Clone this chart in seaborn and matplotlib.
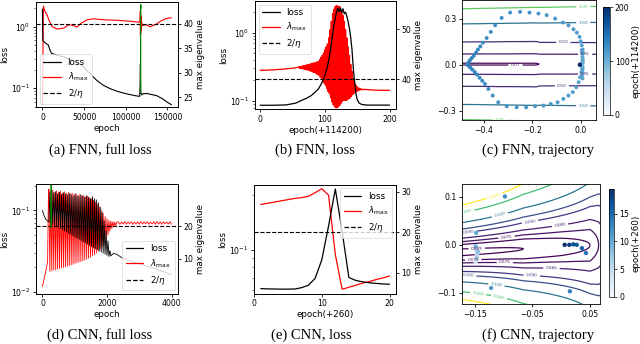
import numpy as np
import matplotlib
matplotlib.use("Agg")
import matplotlib.pyplot as plt
from matplotlib.lines import Line2D
from matplotlib.colors import Normalize
from matplotlib.cm import ScalarMappable
from matplotlib.ticker import NullFormatter
import seaborn as sns

# ---------------------------------------------------------------- data
fnn_two_over_eta = 40
cnn_two_over_eta = 20

# (a) FNN, full loss
a_loss_epoch = [0, 400, 3000, 7000, 9000, 11000, 17000, 25000, 33000, 41000,
                49000, 57000, 65000, 73000, 81000, 89000, 97000, 105000, 113000, 116800,
                117300, 117600, 117900, 118400, 119500, 121000, 126000, 131000, 137000, 142000,
                146000, 150000, 155000]
a_loss = [1.95, 0.60, 0.553, 0.507, 0.42, 0.37, 0.348, 0.326, 0.295, 0.27,
          0.224, 0.174, 0.135, 0.112, 0.099, 0.090, 0.0837, 0.079, 0.075, 0.074,
          0.12, 0.25, 0.09, 0.082, 0.078, 0.082, 0.082, 0.079, 0.076, 0.070,
          0.065, 0.059, 0.054]
a_red_epoch = [0, 1200, 2400, 4000, 5600, 7600, 11600, 17600, 25600, 31600,
               37600, 41600, 45600, 53600, 61600, 73600, 89600, 105600, 115600, 117300,
               117500, 117650, 117800, 117950, 118100, 118300, 118600, 120000, 123600, 129600,
               135600, 141600, 147600, 153600, 155000]
a_red = [23.5, 43.6, 42.8, 42.2, 41.8, 40.8, 39.4, 38.9, 39.1, 39.8,
         39.6, 39.3, 40.0, 40.8, 41.0, 40.8, 40.7, 40.5, 40.3, 40.6,
         42.6, 37.6, 42.2, 38.0, 41.6, 38.6, 40.8, 39.6, 39.8, 39.4,
         39.8, 40.5, 41.0, 41.2, 41.2]
a_zoom_start = 117700

# (b) FNN, loss (epoch offset 114200)
b_loss_epoch = [0, 20, 40, 55, 64, 72, 79, 85, 90, 94, 97, 101, 105, 108, 110, 112, 114, 116, 118, 120,
                122, 124, 126, 128, 130, 132, 134, 136, 138, 140, 142, 144, 146, 148, 150, 153, 157, 165, 180, 200]
b_loss = [0.0865, 0.0866, 0.0875, 0.093, 0.102, 0.11, 0.12, 0.135, 0.15, 0.175,
          0.2, 0.25, 0.355, 0.5, 0.7, 0.95, 1.3, 1.6, 2.0, 2.3,
          2.05, 2.3, 2.0, 2.25, 1.9, 2.0, 1.75, 1.45, 1.15, 0.85,
          0.56, 0.3, 0.19, 0.13, 0.105, 0.093, 0.089, 0.087, 0.087, 0.087]
b_red_head_epoch = [0, 20, 40, 55]
b_red_head = [41.8, 41.9, 42.1, 42.3]
b_red_peak_epoch = list(range(60, 157, 2))
b_red_peak = [42.5, 42.6, 42.6, 42.7, 42.8, 42.8, 42.9, 43.0, 43.0, 43.1,
              43.2, 43.3, 43.3, 43.4, 43.5,
              43.6, 44.0, 44.4, 44.8, 45.3, 45.9, 46.5, 47.1, 48.3, 49.9,
              51.6, 53.2, 54.0, 54.6, 54.8, 54.7, 54.6, 54.5, 53.8, 52.8,
              51.6, 50.0, 48.3, 46.5, 44.8, 43.0, 41.6, 40.2, 39.3, 38.8,
              38.5, 38.3, 38.2, 38.1]
b_red_trough_epoch = list(range(61, 158, 2))
b_red_trough = [42.2, 42.2, 42.1, 42.1, 42.0, 41.9, 41.9, 41.8, 41.7, 41.6,
                41.5, 41.4, 41.3, 41.1, 41.0,
                40.8, 40.4, 40.0, 39.6, 39.2, 38.8, 38.2, 37.6, 37.1, 36.3,
                35.5, 34.9, 34.5, 34.3, 34.3, 34.5, 34.8, 35.2, 35.6, 35.8,
                35.8, 35.8, 35.9, 36.1, 36.3, 36.6, 36.9, 37.2, 37.4, 37.6,
                37.7, 37.8, 37.9, 37.9]
b_red_tail_epoch = [160, 170, 185, 200]
b_red_tail = [38.0, 37.9, 37.8, 37.8]

# (c) FNN, trajectory: loss-surface profile and iterates
c_levels = [0.07, 0.35, 0.5, 1.5, 3.0]
c_prof_r = [0.0, 0.006, 0.066, 0.145, 0.263, 0.362, 0.6]
c_prof_level = [0.06, 0.07, 0.35, 0.5, 1.5, 3.0, 8.0]
c_shift_x = [-0.5, -0.185, -0.17, 0.07]
c_shift = [0.0, 0.0, 0.012, 0.02]
c_spread_x = [-0.5, 0.07]
c_spread = [1.0, 0.955]
c_center = 0.004
c_x = [0.006, 0.006, 0.006, 0.006, 0.006, 0.006, 0.006, 0.006, 0.007, 0.006,
       0.008, 0.008, 0.008, 0.007, 0.008, 0.007, 0.008, 0.006, 0.008, 0.007,
       0.007, 0.007, 0.004, 0.004, 0.000, -0.005, -0.016, -0.030, -0.051, -0.074,
       -0.106, -0.141, -0.175, -0.212, -0.251, -0.292, -0.327, -0.354, -0.372, -0.389, -0.405,
       0.006, 0.003, -0.003, -0.009, -0.019, -0.033, -0.051, -0.072, -0.096, -0.124,
       -0.154, -0.189, -0.226, -0.265, -0.306, -0.341, -0.364, -0.382, -0.396,
       -0.415, -0.425, -0.433, -0.442, -0.450, -0.458, -0.464, -0.468,
       -0.407, -0.418, -0.428, -0.438, -0.448, -0.457, -0.465,
       -0.004, -0.003, -0.004]
c_y = [0.001, -0.002, 0.003, -0.005, 0.008, -0.012, 0.018, -0.026, 0.035, -0.045,
       0.012, -0.015, 0.022, -0.030, 0.035, -0.050, 0.080, -0.070, 0.100, -0.090,
       0.050, 0.072, 0.094, 0.127, 0.153, 0.182, 0.210, 0.232, 0.258, 0.276,
       0.302, 0.324, 0.335, 0.341, 0.346, 0.341, 0.306, 0.258, 0.215, 0.175, 0.144,
       -0.026, -0.048, -0.081, -0.114, -0.147, -0.179, -0.201, -0.223, -0.245, -0.256,
       -0.267, -0.271, -0.278, -0.278, -0.271, -0.245, -0.201, -0.158, -0.125,
       0.120, 0.100, 0.080, 0.060, 0.045, 0.030, 0.015, 0.004,
       -0.105, -0.085, -0.065, -0.048, -0.032, -0.018, -0.006,
       0.000, 0.002, -0.001]
c_epoch = [0, 10, 20, 30, 40, 50, 60, 70, 80, 90,
           100, 101, 102, 103, 104, 105, 106, 107, 108, 109,
           110, 111, 112, 113, 114, 115, 116, 117, 118, 119,
           120, 121, 122, 123, 124, 125, 126, 127, 128, 129, 130,
           110, 111, 112, 113, 114, 115, 116, 117, 118, 119,
           120, 121, 122, 123, 124, 125, 126, 127, 128,
           131, 132, 133, 134, 135, 136, 137, 138,
           131, 132, 133, 134, 135, 136, 137,
           190, 195, 200]

# (d) CNN, full loss
d_early_epoch = [0, 40, 100, 160]
d_early_loss = [0.100, 0.088, 0.078, 0.074]
d_spike_epoch = list(range(200, 2061, 60))
d_spike_mid_epoch = list(range(230, 2091, 60))
d_loss_low = [0.0720, 0.0698, 0.0676, 0.0655, 0.0634, 0.0615, 0.0596, 0.0577, 0.0559, 0.0542,
              0.0525, 0.0508, 0.0493, 0.0477, 0.0462, 0.0448, 0.0434, 0.0421, 0.0408, 0.0395,
              0.0383, 0.0371, 0.0359, 0.0348, 0.0337, 0.0327, 0.0317, 0.0307, 0.0297, 0.0288,
              0.0279, 0.0270]
d_loss_top = [0.170, 0.175, 0.165, 0.170, 0.160, 0.168, 0.158, 0.165, 0.160, 0.155,
              0.163, 0.157, 0.150, 0.160, 0.152, 0.148, 0.156, 0.150, 0.145, 0.152,
              0.146, 0.140, 0.148, 0.140, 0.135, 0.125, 0.110, 0.095, 0.075, 0.056,
              0.042, 0.032]
d_late_epoch = [2120, 2200, 2300, 2500, 3000, 3500, 4000]
d_late_loss = [0.0275, 0.0295, 0.0288, 0.0255, 0.0220, 0.0190, 0.0162]
d_red_early_epoch = [0, 80, 160, 185]
d_red_early = [1.3, 5.0, 9.0, 30.0]
d_red_top = [31.5, 30.8, 31.2, 30.5, 31.0, 30.6, 30.9, 30.3, 30.7, 30.2,
             30.5, 30.0, 30.3, 29.8, 30.1, 29.6, 29.9, 29.4, 29.6, 29.1,
             29.3, 28.8, 28.5, 28.0, 27.5, 26.8, 26.0, 25.0, 24.0, 23.0,
             22.3, 21.8]
d_red_bottom = [6.0, 6.2, 6.4, 6.5, 6.7, 6.9, 7.1, 7.2, 7.4, 7.6,
                7.8, 8.0, 8.2, 8.5, 8.7, 8.9, 9.1, 9.3, 9.5, 9.8,
                10.1, 10.4, 10.8, 11.2, 11.7, 12.3, 13.0, 13.8, 14.8, 16.0,
                17.3, 18.5]
d_red_mid_epoch = [2120, 2150, 2180, 2210, 2240, 2270, 2300]
d_red_mid = [21.6, 19.3, 21.4, 19.8, 21.3, 20.2, 21.2]
d_red_late_hi_epoch = list(range(2350, 3951, 100))
d_red_late_hi = [21.4, 21.3, 21.5, 21.3, 21.4, 21.3, 21.4, 21.5, 21.3, 21.4,
                 21.3, 21.4, 21.5, 21.3, 21.4, 21.3, 21.4]
d_red_late_lo_epoch = list(range(2400, 4001, 100))
d_red_late_lo = [20.6, 20.7, 20.6, 20.8, 20.6, 20.7, 20.6, 20.7, 20.8, 20.6,
                 20.7, 20.6, 20.7, 20.6, 20.8, 20.7, 20.6]
d_zoom_start = 260

# (e) CNN, loss (epoch offset 260)
e_epoch = list(range(1, 21))
e_loss = [0.0613, 0.0611, 0.0610, 0.0609, 0.0609, 0.0610, 0.0620, 0.0639, 0.0696, 0.088,
          0.135, 0.215, 0.126, 0.0705, 0.068, 0.0668, 0.066, 0.0655, 0.065, 0.0648]
e_red = [26.9, 27.2, 27.5, 27.8, 28.1, 28.4, 28.6, 28.9, 29.8, 30.8,
         29.2, 14.5, 5.9, 6.4, 6.9, 7.4, 7.8, 8.3, 8.7, 9.2]

# (f) CNN, trajectory: loss-surface parameters and iterates
f_levels = [0.069, 0.072, 0.075, 0.080, 0.090, 0.100, 0.120, 0.160, 0.200]
f_floor_x = [-0.18, -0.066, 0.0, 0.05, 0.065, 0.1]
f_floor = [0.0683, 0.069, 0.0705, 0.072, 0.075, 0.085]
f_curv_x = [-0.18, -0.066, 0.065]
f_curv = [14.0, 7.0, 2.2]
f_center_x = [-0.18, 0.065]
f_center = [-0.016, 0.0]
f_x = [-0.148, -0.147, -0.146, -0.149, -0.147, -0.148, -0.146, -0.147, -0.145, -0.149,
       -0.148, -0.122, -0.098, 0.015, 0.043, 0.036, 0.027, 0.021, 0.014, 0.006]
f_y = [-0.012, -0.018, -0.006, -0.036, -0.022, -0.010, -0.020, -0.028, -0.014, -0.003,
       0.025, -0.090, 0.101, -0.097, -0.017, -0.007, 0.000, 0.001, 0.000, 0.000]
f_epoch = list(range(0, 20))

# ---------------------------------------------------------------- style
sns.set_style("ticks")
plt.rcParams.update({
    "font.family": ["DejaVu Sans"],
    "axes.edgecolor": "black", "axes.labelcolor": "black", "text.color": "black",
    "xtick.color": "black", "ytick.color": "black",
    "axes.linewidth": 0.6, "xtick.major.width": 0.6, "ytick.major.width": 0.6,
    "xtick.minor.width": 0.4, "ytick.minor.width": 0.4,
    "xtick.major.size": 2.5, "ytick.major.size": 2.5,
    "xtick.minor.size": 1.5, "ytick.minor.size": 1.5,
    "xtick.labelsize": 5.6, "ytick.labelsize": 5.6,
    "axes.labelsize": 6.3, "legend.fontsize": 6.3,
    "xtick.major.pad": 1.5, "ytick.major.pad": 1.5,
    "axes.labelpad": 1.5,
})

W, H = 640, 344
fig = plt.figure(figsize=(W / 100, H / 100), dpi=100)


def rect(l, t, r, b):
    return [l / W, 1 - b / H, (r - l) / W, (b - t) / H]


def interleave(xa, ya, xb, yb):
    x = np.empty(len(xa) + len(xb))
    y = np.empty(len(ya) + len(yb))
    x[0::2], x[1::2] = xa, xb
    y[0::2], y[1::2] = ya, yb
    return x, y


def line(ax, x, y, color, lw=0.8, ls="-"):
    sns.lineplot(x=np.asarray(x, float), y=np.asarray(y, float), ax=ax, color=color,
                 linewidth=lw, linestyle=ls, estimator=None, sort=False)


def legend_handles():
    return [Line2D([], [], color="black", lw=0.9, label="loss"),
            Line2D([], [], color="red", lw=0.9, label=r"$\lambda_{\max}$"),
            Line2D([], [], color="black", lw=0.9, ls="--", label=r"$2/\eta$")]


def loss_axes(r):
    ax = fig.add_axes(rect(*r))
    ax2 = ax.twinx()
    ax.set_zorder(ax2.get_zorder() + 1)
    ax.patch.set_visible(False)
    return ax, ax2


def finish_loss(ax, ax2, xlabel, ylim, ylim2, yticks2, legloc):
    ax.set_yscale("log")
    ax.set_ylim(*ylim)
    ax.yaxis.set_minor_formatter(NullFormatter())
    ax2.set_ylim(*ylim2)
    ax2.set_yticks(yticks2)
    ax.set_xlabel(xlabel)
    ax.set_ylabel("loss")
    ax2.set_ylabel("max eigenvalue")
    leg = ax.legend(handles=legend_handles(), loc=legloc, handlelength=2.0,
                    borderaxespad=0.4, labelspacing=0.45)
    leg.get_frame().set_linewidth(0.5)


# ---------------------------------------------------------------- (a)
ax, ax2 = loss_axes((36, 1.7, 178, 107.3))
line(ax2, a_red_epoch, a_red, "red")
ax2.axhline(fnn_two_over_eta, color="black", ls="--", lw=0.8)
line(ax, a_loss_epoch, a_loss, "black")
line(ax, np.asarray(b_loss_epoch) + a_zoom_start, b_loss, "green")
ax.set_xlim(-7750, 162750)
ax.set_xticks([0, 50000, 100000, 150000])
finish_loss(ax, ax2, "epoch", (0.049, 2.57), (22.9, 44.5), [25, 30, 35, 40], "lower left")

# ---------------------------------------------------------------- (b)
ax, ax2 = loss_axes((255, 1.0, 396, 109.3))
bx, by = interleave(b_red_peak_epoch, b_red_peak, b_red_trough_epoch, b_red_trough)
line(ax2, np.concatenate([b_red_head_epoch, bx, b_red_tail_epoch]),
     np.concatenate([b_red_head, by, b_red_tail]), "red", lw=0.95)
ax2.axhline(fnn_two_over_eta, color="black", ls="--", lw=0.8)
line(ax, b_loss_epoch, b_loss, "black", lw=0.9)
ax.set_xlim(-8, 210)
ax.set_xticks([0, 100, 200])
finish_loss(ax, ax2, "epoch(+114200)", (0.0755, 2.92), (34.0, 55.7), [40, 50], "upper left")

# ---------------------------------------------------------------- (d)
ax, ax2 = loss_axes((36, 184.3, 178, 293.7))
rx, ry = interleave(d_spike_epoch, d_red_top, d_spike_mid_epoch, d_red_bottom)
lx, ly = interleave(d_red_late_hi_epoch, d_red_late_hi, d_red_late_lo_epoch, d_red_late_lo)
line(ax2, np.concatenate([d_red_early_epoch, rx, d_red_mid_epoch, lx]),
     np.concatenate([d_red_early, ry, d_red_mid, ly]), "red", lw=0.6)
ax2.axhline(cnn_two_over_eta, color="black", ls="--", lw=0.8)
kx, ky = interleave(d_spike_epoch, d_loss_low, d_spike_mid_epoch, d_loss_top)
line(ax, np.concatenate([d_early_epoch, kx, d_late_epoch]),
     np.concatenate([d_early_loss, ky, d_late_loss]), "black", lw=0.6)
line(ax, np.asarray(e_epoch) + d_zoom_start, e_loss, "green", lw=0.8)
ax.set_xlim(-200, 4200)
ax.set_xticks([0, 2000, 4000])
finish_loss(ax, ax2, "epoch", (0.0094, 0.21), (-0.9, 33.0), [10, 20], "lower right")

# ---------------------------------------------------------------- (e)
ax, ax2 = loss_axes((254, 184.7, 396, 293.7))
line(ax2, e_epoch, e_red, "red", lw=0.9)
ax2.axhline(cnn_two_over_eta, color="black", ls="--", lw=0.8)
line(ax, e_epoch, e_loss, "black", lw=0.9)
ax.set_xlim(0.05, 20.95)
ax.set_xticks([0, 10, 20])
finish_loss(ax, ax2, "epoch(+260)", (0.0575, 0.227), (4.8, 31.8), [10, 20, 30], "upper right")

# ---------------------------------------------------------------- (c)
ax = fig.add_axes(rect(462, 0.5, 596, 120))
gx, gy = np.meshgrid(np.linspace(-0.5, 0.07, 420), np.linspace(-0.37, 0.43, 420))
cz = (np.interp(np.abs(gy - c_center) * np.interp(gx, c_spread_x, c_spread), c_prof_r, c_prof_level)
      + np.interp(gx, c_shift_x, c_shift))
cs = ax.contour(gx, gy, cz, levels=c_levels, cmap="viridis", norm=Normalize(0, 4), linewidths=0.9)
ax.clabel(cs, fmt="%1.2f", fontsize=3.2, inline=True, inline_spacing=2,
          manual=[(0.01, 0.40), (0.01, 0.285), (-0.072, 0.155), (0.018, 0.068), (-0.27, 0.0),
                  (0.018, -0.064), (-0.078, -0.14), (0.01, -0.267), (-0.334, -0.341)])
sns.scatterplot(x=c_x, y=c_y, hue=c_epoch, palette="Blues", hue_norm=(0, 200), s=8,
                linewidth=0, legend=False, ax=ax, zorder=3)
ax.set_xlim(-0.491, 0.063)
ax.set_ylim(-0.361, 0.42)
ax.set_xticks([-0.4, -0.2, 0.0])
ax.set_yticks([-0.3, 0.0, 0.3])
ax.set_xlabel("")
ax.set_ylabel("")
cax = fig.add_axes(rect(603, 7.3, 610, 115))
cb = fig.colorbar(ScalarMappable(norm=Normalize(0, 200), cmap="Blues"), cax=cax)
cb.set_ticks([0, 100, 200])
cb.set_label("epoch(+114200)", fontsize=6.3)
cb.ax.tick_params(labelsize=5.6, length=2, width=0.5)
cb.outline.set_linewidth(0.5)

# ---------------------------------------------------------------- (f)
ax = fig.add_axes(rect(462, 184, 600, 304))
hx, hy = np.meshgrid(np.linspace(-0.18, 0.07, 420), np.linspace(-0.13, 0.13, 420))
fz = (np.interp(hx, f_floor_x, f_floor)
      + np.interp(hx, f_curv_x, f_curv) * (hy - np.interp(hx, f_center_x, f_center)) ** 2)
fs = ax.contour(hx, hy, fz, levels=f_levels, cmap="viridis", norm=Normalize(0.069, 0.2), linewidths=0.9)
ax.clabel(fs, fmt="%1.3f", fontsize=3.0, inline=True, inline_spacing=2,
          manual=[(-0.115, 0.099), (-0.109, -0.114), (-0.164, 0.065), (-0.144, -0.0985),
                  (-0.1065, 0.061), (-0.112, -0.078), (-0.162, 0.030), (-0.162, -0.065),
                  (-0.054, 0.047), (-0.051, -0.057), (-0.002, 0.040), (-0.017, -0.046),
                  (-0.095, 0.014), (-0.098, -0.036), (-0.153, -0.0325), (-0.147, -0.008)])
sns.scatterplot(x=f_x, y=f_y, hue=f_epoch, palette="Blues", hue_norm=(0, 19), s=10,
                linewidth=0, legend=False, ax=ax, zorder=3)
ax.set_xlim(-0.1726, 0.0674)
ax.set_ylim(-0.1235, 0.127)
ax.set_xticks([-0.15, -0.05, 0.05])
ax.set_yticks([-0.1, 0.0, 0.1])
ax.set_xlabel("")
ax.set_ylabel("")
cax = fig.add_axes(rect(608.7, 189.3, 614.3, 297))
cb = fig.colorbar(ScalarMappable(norm=Normalize(0, 19.4), cmap="Blues"), cax=cax)
cb.set_ticks([0, 5, 10, 15])
cb.set_label("epoch(+260)", fontsize=6.3)
cb.ax.tick_params(labelsize=5.6, length=2, width=0.5)
cb.outline.set_linewidth(0.5)

# ---------------------------------------------------------------- captions
captions = [("(a) FNN, full loss", 100, 150), ("(b) FNN, loss", 314.5, 150),
            ("(c) FNN, trajectory", 538, 150), ("(d) CNN, full loss", 100, 335),
            ("(e) CNN, loss", 311.5, 335), ("(f) CNN, trajectory", 538.5, 335)]
for txt, x, y in captions:
    fig.text(x / W, 1 - y / H, txt, ha="center", va="center",
             family=["Liberation Serif", "DejaVu Serif"], fontsize=10.5)

fig.savefig("out.png", dpi=100)
